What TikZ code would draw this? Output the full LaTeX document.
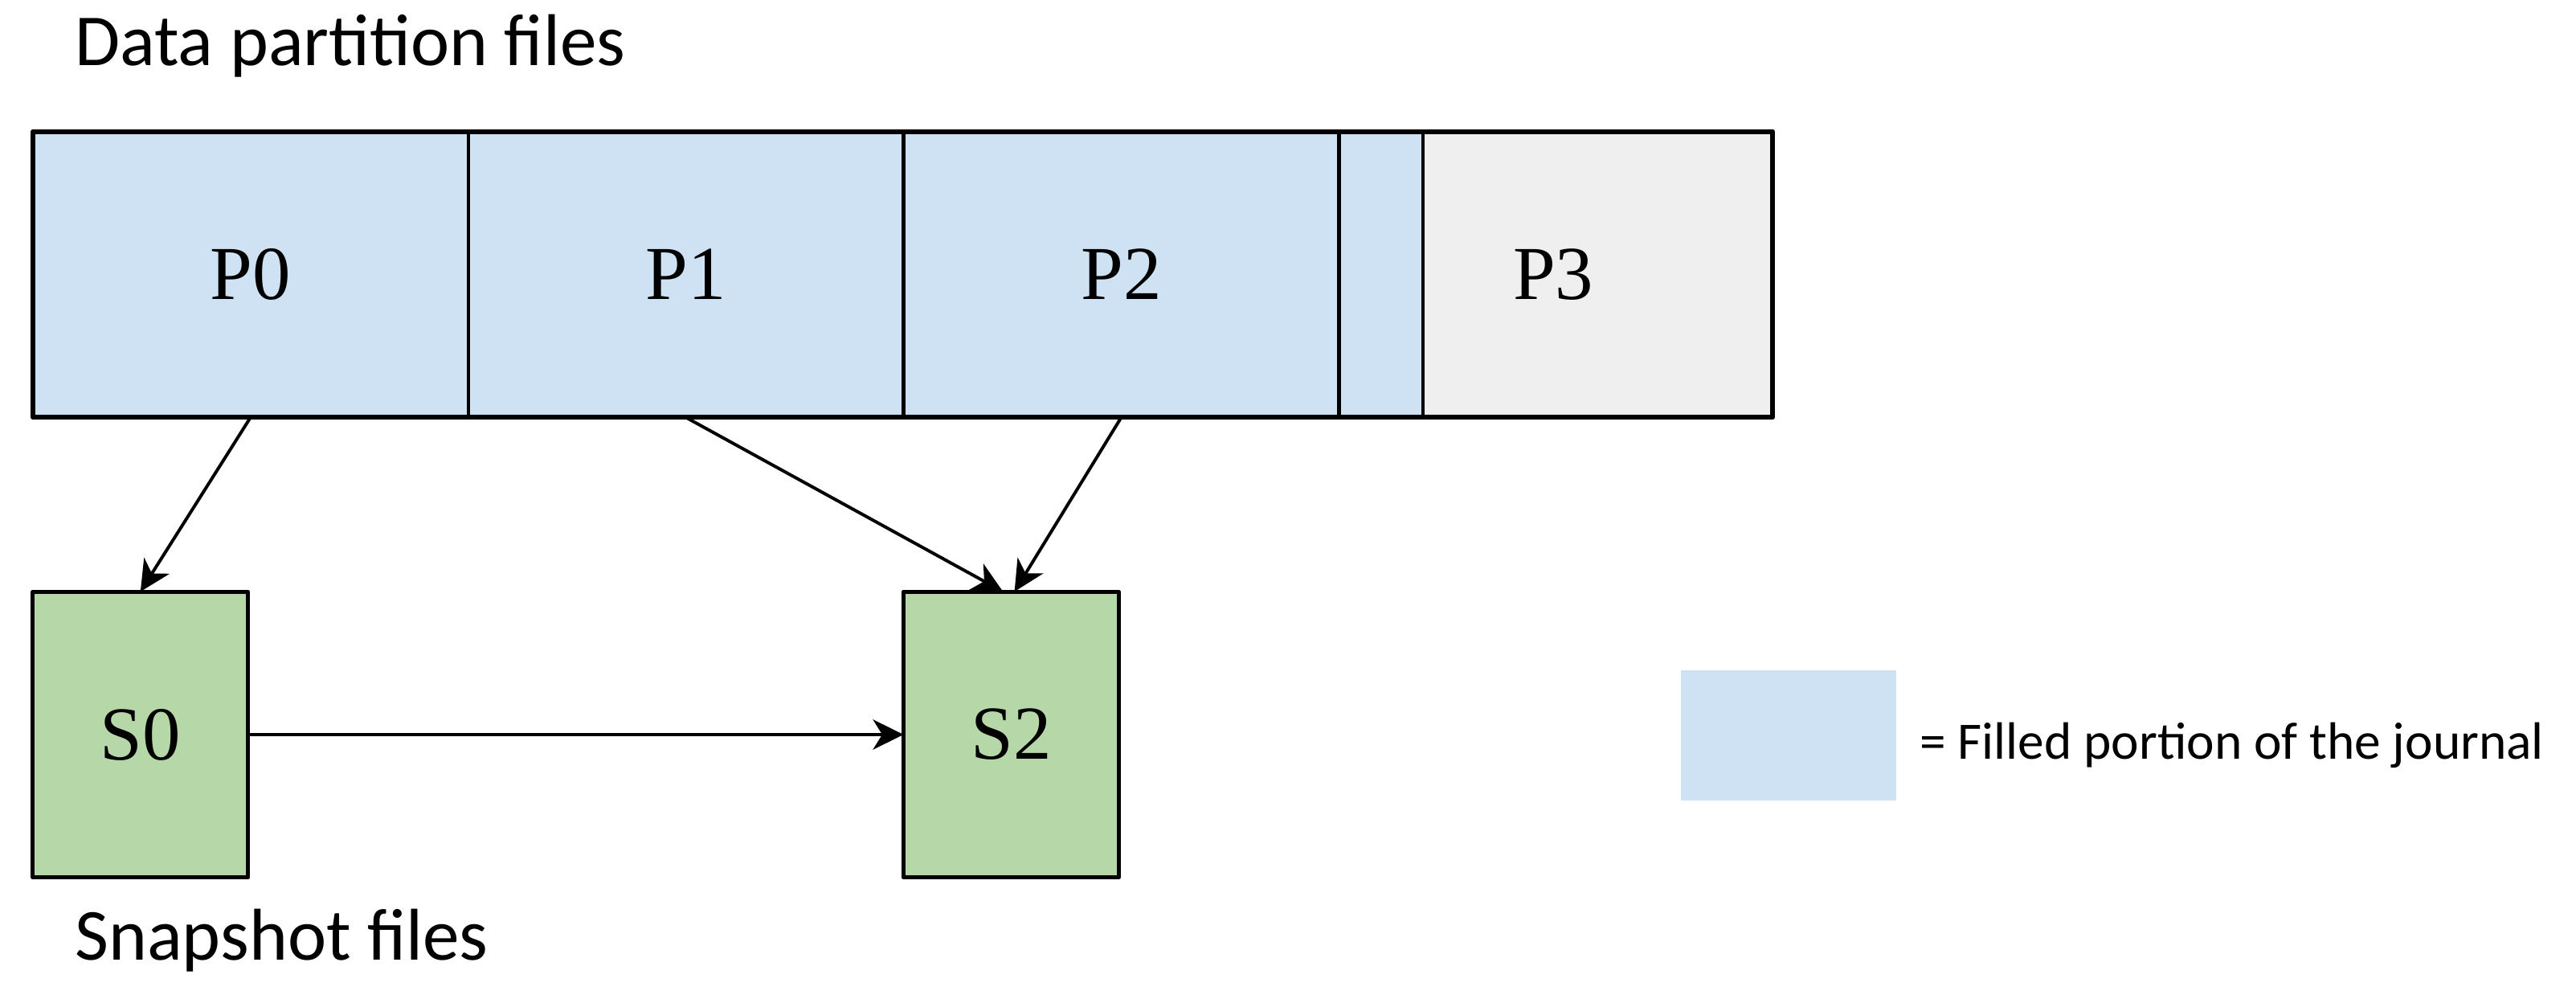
\documentclass[tikz,border=0pt]{standalone}
\usepackage{fontspec}
\setmainfont{Liberation Serif}
\newfontfamily\notefont{Carlito}
\usetikzlibrary{positioning,arrows.meta}
\definecolor{filledblue}{RGB}{207,226,243}
\definecolor{emptygray}{RGB}{239,239,239}
\definecolor{snapgreen}{RGB}{182,215,168}
\begin{document}
\begin{tikzpicture}[>={Stealth[length=5.3pt,width=5.2pt,inset=1.6pt]},line join=round,line cap=round,
	cell/.style={draw,line width=0.6pt,minimum height=1.74cm,inner sep=0pt,outer sep=0pt,
		font=\fontsize{13.2}{15}\selectfont},
	note/.style={inner sep=0pt,anchor=base west,font=\notefont\fontsize{12.7}{14}\selectfont}]
		\useasboundingbox (0,0) rectangle (15.68,6.05);
		% partition files
		\node[cell,fill=filledblue,minimum width=2.65cm] (p0) at (1.525,4.38) {P0};
		\node[cell,fill=filledblue,minimum width=2.65cm,right=0pt of p0] (p1) {P1};
		\node[cell,fill=filledblue,minimum width=2.65cm,right=0pt of p1] (p2) {P2};
		\node[cell,fill=filledblue,minimum width=0.51cm,right=0pt of p2] (pf) {};
		\node[cell,fill=emptygray,minimum width=2.13cm,right=0pt of pf] (p3) {P3\kern0.54cm};
		\draw[line width=0.85pt] (p0.north west) rectangle (p3.south east);
		\node[note] (dtitle) at (0.45,5.65) {Data partition files};
		% snapshot files
		\node[cell,fill=snapgreen,minimum width=1.31cm,line width=0.7pt] (s0) at (0.855,1.58) {S0};
		\node[cell,fill=snapgreen,minimum width=1.31cm,line width=0.7pt,right=3.99cm of s0] (s2) {S2};
		\node[note] (stitle) at (0.45,0.21) {Snapshot files};
		% arrows
		\draw[->,line width=0.55pt] (p0.south)--(s0.north);
		\draw[->,line width=0.55pt] (p1.south)--([xshift=-0.05cm]s2.north);
		\draw[->,line width=0.55pt] (p2.south)--([xshift=0.02cm]s2.north);
		\draw[->,line width=0.55pt] (s0.east)--(s2.west);
		% legend
		\node[fill=filledblue,minimum width=1.31cm,minimum height=0.79cm,inner sep=0pt] (key) at (10.885,1.575) {};
		\node[note,font=\notefont\fontsize{9.1}{11}\selectfont] (keytext) at (11.68,1.43) {= Filled portion of the journal};
\end{tikzpicture}
\end{document}
